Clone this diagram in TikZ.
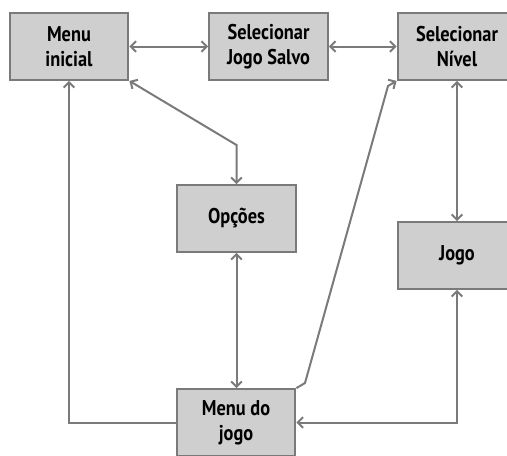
\documentclass[tikz,border=0pt]{standalone}
\usepackage{fontspec}
\setmainfont{PT Sans}[FakeStretch=0.86]
\usetikzlibrary{arrows.meta}
\definecolor{boxfill}{RGB}{207,207,207}
\definecolor{boxline}{RGB}{122,122,122}

\begin{document}
\begin{tikzpicture}[x=0.75pt,y=-0.75pt]
\useasboundingbox (0,0) rectangle (507,455);
\clip (0,0) rectangle (507,455);
%%%%%%%%%%%%%%%%%%%%%%%%%%%%%%%%%%%%%%%%%%%%%%%%%%%%%%%%%%%%%%
%styles
\tikzstyle{tela}=[draw=boxline,fill=boxfill,line width=1.6pt,minimum width=89pt,minimum height=50pt,inner sep=0pt,align=center,font=\fontsize{16}{19}\selectfont\bfseries]
\tikzstyle{seta}=[draw=boxline,line width=1.5pt,arrows={-Straight Barb[length=4pt,width=8pt]}]
\tikzstyle{seta2}=[seta,arrows={Straight Barb[length=4pt,width=8pt]-Straight Barb[length=4pt,width=8pt]}]

%%%%%%%%%%%%%%%%%%%%%%%%%%%%%%%%%%%%%%%%%%%%%%%%%%%%%%%%%%%%%%
%telas
%linha de cima
\node[tela] (menuinicial) at (69,46.5) {Menu\\inicial};
\node[tela] (seljogo) at (268.5,46.5) {Selecionar\\Jogo Salvo};
\node[tela] (selnivel) at (457,46.5) {Selecionar\\N\'ivel};
%meio
\node[tela] (opcoes) at (236.5,218.5) {Op\c{c}\~oes};
\node[tela] (jogo) at (457,255.5) {Jogo};
%baixo
\node[tela] (menujogo) at (236,422.5) {Menu do\\jogo};

%pontos de dobra
\coordinate (dobra1) at (236.5,145);
\coordinate (dobra2) at (305,383);
\coordinate (dobra3) at (388,86);

%%%%%%%%%%%%%%%%%%%%%%%%%%%%%%%%%%%%%%%%%%%%%%%%%%%%%%%%%%%%%%
%SETAS
%linha de cima
\draw[seta2] (menuinicial) -- (seljogo);
\draw[seta2] (seljogo) -- (selnivel);
%menu inicial -> opcoes
\draw[seta2] (menuinicial.south east) -- (dobra1) -- (opcoes.north);
%opcoes -> menu do jogo
\draw[seta2] (opcoes.south) -- (opcoes.south |- menujogo.north);
%selecionar nivel -> jogo
\draw[seta2] (selnivel) -- (jogo);
%menu do jogo -> selecionar nivel
\draw[seta] (menujogo.north east) -- (dobra2) -- (dobra3) -- (selnivel.south west);
%menu do jogo -> menu inicial
\draw[seta] (menujogo.west) -| (menuinicial.south);
%jogo -> menu do jogo
\draw[seta2] (jogo.south) |- (menujogo.east);
\end{tikzpicture}
\end{document}
